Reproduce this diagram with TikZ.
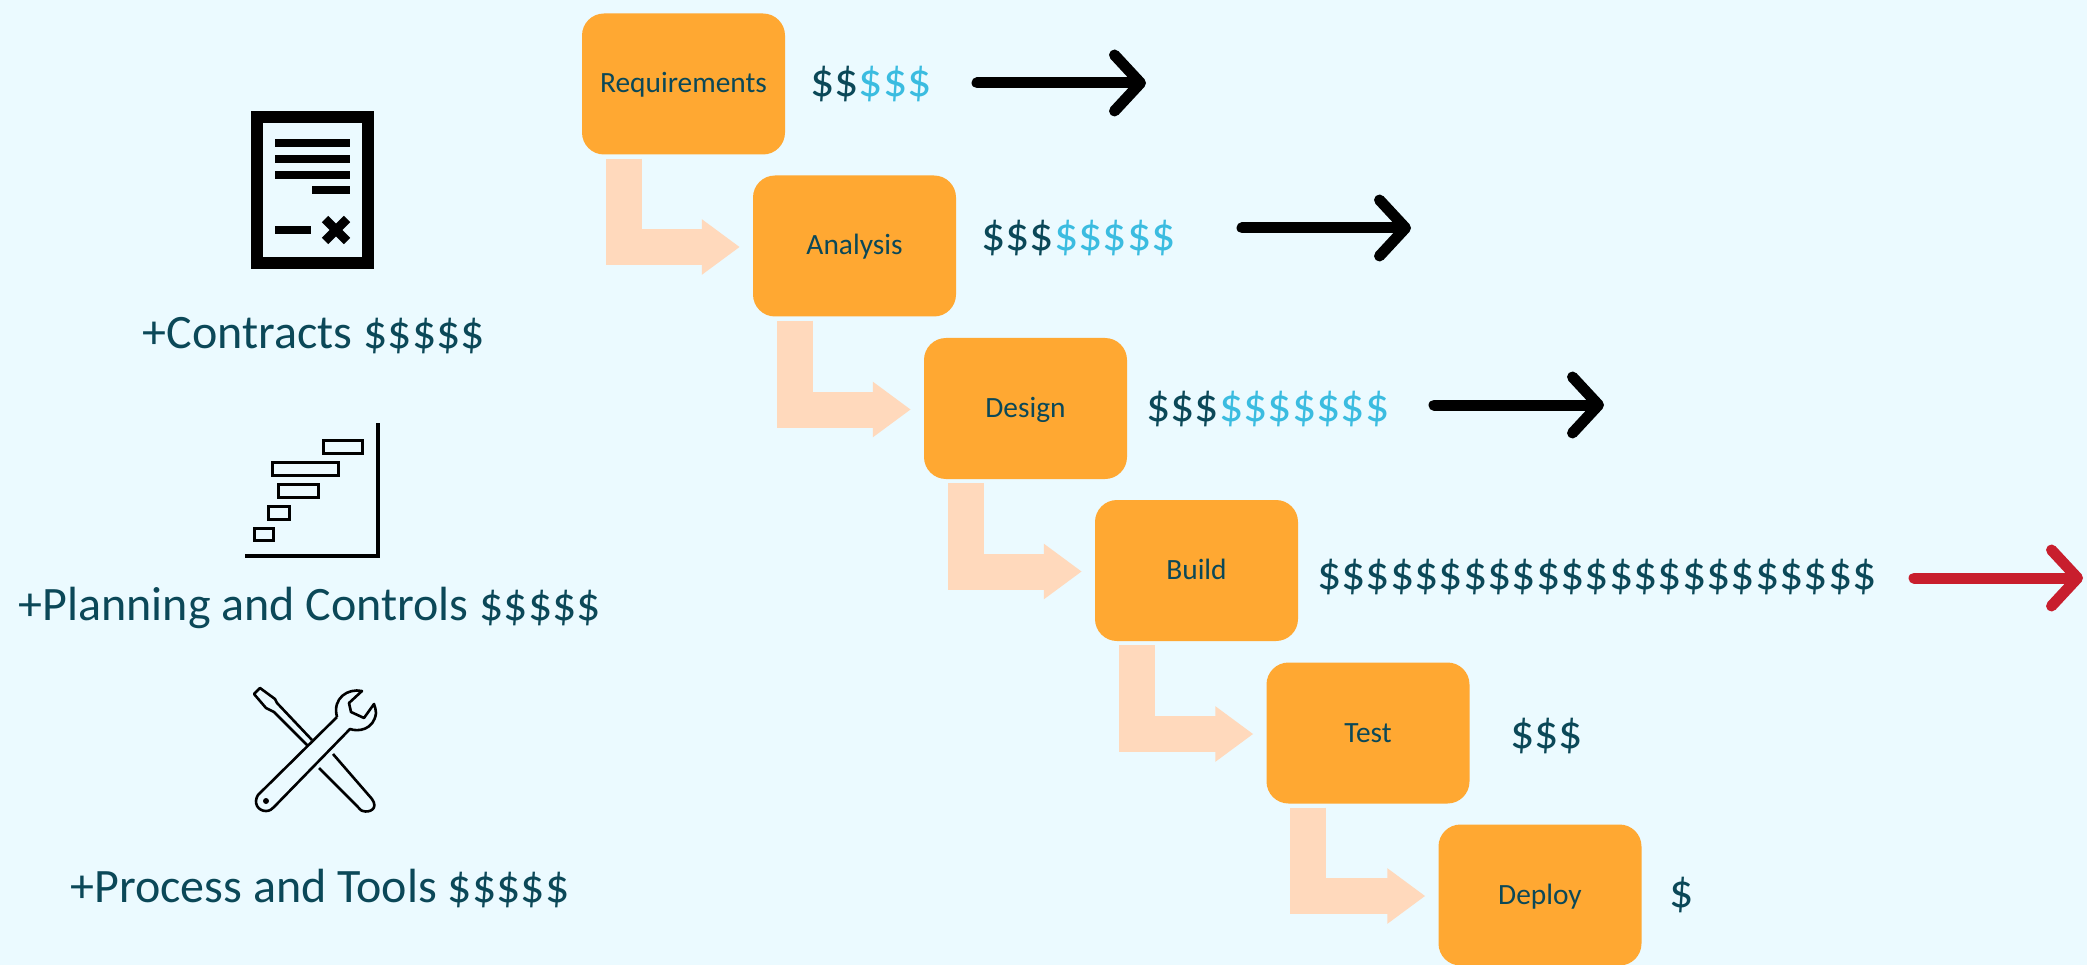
\documentclass[tikz,border=0pt]{standalone}
\usepackage{fontspec}
\setmainfont{Carlito}
\usetikzlibrary{arrows.meta}
\definecolor{pagebg}{HTML}{EBFAFF}
\definecolor{boxfill}{HTML}{FFA832}
\definecolor{flowfill}{HTML}{FFD9BC}
\definecolor{inkdark}{HTML}{0B4858}
\definecolor{inklight}{HTML}{3BBCE0}
\definecolor{inkred}{HTML}{C81E2D}
\newcommand{\dk}[1]{{\color{inkdark}#1}}
\newcommand{\lt}[1]{{\color{inklight}#1}}
\begin{document}
\begin{tikzpicture}[x=1pt, y=-1pt,
	phase/.style={fill=boxfill, rounded corners=22pt, minimum width=203pt, minimum height=141pt,
		inner sep=0pt, text=inkdark, text height=24pt, text depth=6pt, font=\fontsize{29.4}{35}\selectfont},
	cost/.style={anchor=west, inner sep=0pt, text=inkdark, font=\fontsize{48}{58}\selectfont},
	extra/.style={inner sep=0pt, text=inkdark, font=\fontsize{48}{58}\selectfont},
	flow/.style={draw=flowfill, line width=36pt, shorten <=4pt, shorten >=13pt,
		-{Triangle[length=38pt, width=53pt]}},
	overrun/.style={line width=11pt, line cap=round, line join=round,
		-{Straight Barb[round, length=26pt, width=56pt]}},
	icon/.style={line width=2.6pt, line join=round}]
	\useasboundingbox (0,0) rectangle (2087,965);
	\fill[pagebg] (0,0) rectangle (2087,965);

	\node[phase] (Req) at (683.5,84) {Requirements};
	\node[phase] (Ana) at (854.5,246) {Analysis};
	\node[phase] (Des) at (1025.5,408.5) {Design};
	\node[phase] (Bui) at (1196.5,570.5) {Build};
	\node[phase] (Tes) at (1368,733) {Test};
	\node[phase] (Dep) at (1540,895) {Deploy};

	\draw[flow] ([xshift=42pt]Req.south west) |- ([yshift=-1pt]Ana.west);
	\draw[flow] ([xshift=42pt]Ana.south west) |- ([yshift=-1pt]Des.west);
	\draw[flow] ([xshift=42pt]Des.south west) |- ([yshift=-1pt]Bui.west);
	\draw[flow] ([xshift=42pt]Bui.south west) |- ([yshift=-1pt]Tes.west);
	\draw[flow] ([xshift=42pt]Tes.south west) |- ([yshift=-1pt]Dep.west);

	\node[cost] (ReqCost) at (810,84) {\dk{\$\$}\lt{\$\$\$}};
	\node[cost] (AnaCost) at (981,238) {\dk{\$\$\$}\lt{\$\$\$\$\$}};
	\node[cost] (DesCost) at (1146,409) {\dk{\$\$\$}\lt{\$\$\$\$\$\$\$}};
	\node[cost] (BuiCost) at (1317,577) {\$\$\$\$\$\$\$\$\$\$\$\$\$\$\$\$\$\$\$\$\$\$\$};
	\node[cost] (TesCost) at (1510,736) {\$\$\$};
	\node[cost] (DepCost) at (1669,895) {\$};

	\coordinate (ReqA) at (977,83);
	\coordinate (ReqB) at (1146,83);
	\coordinate (AnaA) at (1242,228);
	\coordinate (AnaB) at (1411,228);
	\coordinate (DesA) at (1434,405);
	\coordinate (DesB) at (1604,405);
	\coordinate (BuiA) at (1914,578);
	\coordinate (BuiB) at (2083,578);
	\draw[overrun] (ReqA) -- (ReqB);
	\draw[overrun] (AnaA) -- (AnaB);
	\draw[overrun] (DesA) -- (DesB);
	\draw[overrun, inkred] (BuiA) -- (BuiB);

	\node[extra] (Con) at (314,336) {+Contracts \$\$\$\$\$};
	\node[extra] (Pla) at (310,608) {+Planning and Controls \$\$\$\$\$};
	\node[extra] (Pro) at (320,888) {+Process and Tools \$\$\$\$\$};

	% contract
	\fill (251,111) rectangle (374,269);
	\fill[pagebg] (263,123) rectangle (362,257);
	\fill (275,139) rectangle (350,147);
	\fill (275,155) rectangle (350,163);
	\fill (275,171) rectangle (350,179);
	\fill (312,186) rectangle (350,194);
	\fill (275,226) rectangle (311,234);
	\draw[line width=9pt] (325,219) -- (347,241) (347,219) -- (325,241);

	% planning chart
	\draw[line width=3.4pt, line join=miter] (378,423) -- (378,556) -- (245,556);
	\draw[line width=3pt] (323.5,440.5) rectangle (362.5,453.5);
	\draw[line width=3pt] (272.5,462.5) rectangle (338.5,475.5);
	\draw[line width=3pt] (278.5,484.5) rectangle (318.5,497.5);
	\draw[line width=3pt] (268.5,506.5) rectangle (289.5,519.5);
	\draw[line width=3pt] (254.5,528.5) rectangle (273.5,540.5);

	% tools
	\draw[icon] (312,740) -- (277,703) -- (275,699) -- (260,688) -- (254,694) -- (266,708)
		-- (274,712) -- (308,746);
	\draw[icon] (333,754) -- (372,799) .. controls (379,809) and (369,813) .. (363,811)
		.. controls (361,811) and (359,808) .. (357,806) -- (319,768);
	\draw[icon] (337,717) -- (258,795) .. controls (253,803) and (258,811) .. (266,811)
		.. controls (270,811) and (272,809) .. (274,807) -- (350,729)
		.. controls (358,732) and (374,730) .. (376,713) .. controls (376,710) and (375,707) .. (374,704)
		-- (364,718) -- (351,712) -- (349,703) -- (362,691)
		.. controls (348,688) and (332,698) .. (337,717);
	\fill (266,801) circle (3pt);
\end{tikzpicture}
\end{document}
